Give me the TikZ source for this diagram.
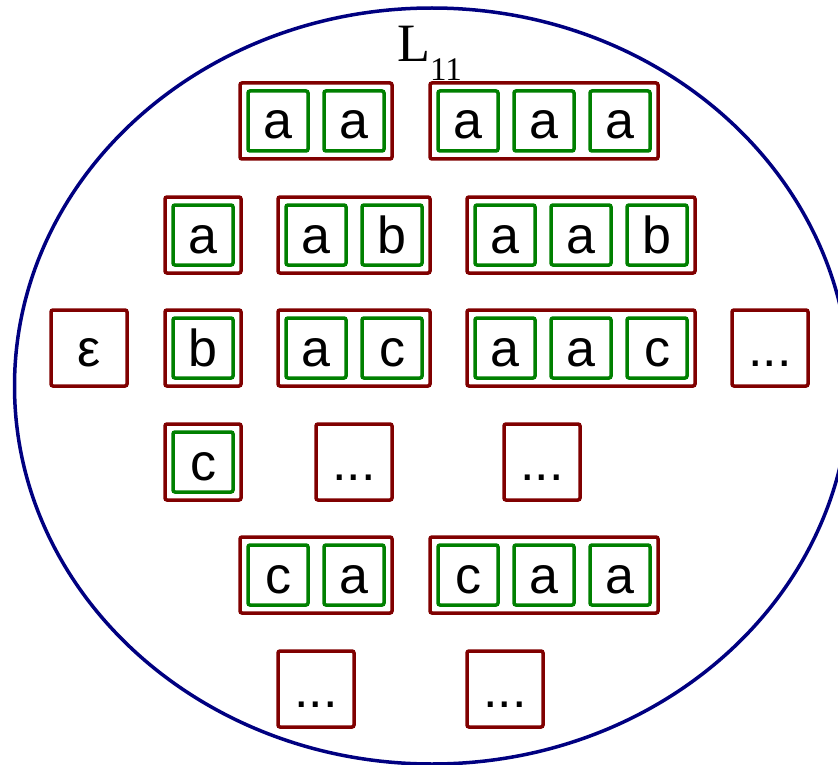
\documentclass[tikz,border=0pt]{standalone}
\usepackage{fontspec}
\newfontfamily\boxfont{Liberation Sans}
\newfontfamily\labfont{Liberation Serif}
\definecolor{dred}{HTML}{800000}
\definecolor{dgreen}{HTML}{008000}
\definecolor{dblue}{HTML}{000080}
\begin{document}
\begin{tikzpicture}[x=1pt,y=-1pt,
  boxtext/.style={font=\boxfont\fontsize{52}{60}\selectfont, text height=36pt, text depth=0pt},
  word/.style={draw=dred, line width=3.5pt, rounded corners=2pt, inner sep=0pt, minimum height=76pt, boxtext},
  letter/.style={draw=dgreen, line width=3.5pt, rounded corners=2pt, inner sep=0pt, minimum width=60pt, minimum height=60pt, boxtext}]
\useasboundingbox (0,0) rectangle (838,765);
\clip (0,0) rectangle (838,765);
\draw[dblue, line width=3.5pt] (432,386) ellipse [x radius=417.5pt, y radius=378pt];
\node[anchor=base west, inner sep=0pt, font=\labfont\fontsize{54}{60}\selectfont] (lab) at (397,62) {L\raisebox{-19pt}{\fontsize{33}{36}\selectfont 11}};
% row 1
\node[word, minimum width=152pt] (w1) at (316,121) {};
\node[letter] (w1a) at (278,121) {a};
\node[letter] (w1b) at (354,121) {a};
\node[word, minimum width=228pt] (w2) at (544,121) {};
\node[letter] (w2a) at (468,121) {a};
\node[letter] (w2b) at (544,121) {a};
\node[letter] (w2c) at (620,121) {a};
% row 2
\node[word, minimum width=76pt] (w3) at (203,235) {};
\node[letter] (w3a) at (203,235) {a};
\node[word, minimum width=152pt] (w4) at (354,235) {};
\node[letter] (w4a) at (316,235) {a};
\node[letter] (w4b) at (392,235) {b};
\node[word, minimum width=228pt] (w5) at (581,235) {};
\node[letter] (w5a) at (505,235) {a};
\node[letter] (w5b) at (581,235) {a};
\node[letter] (w5c) at (657,235) {b};
% row 3
\node[word, minimum width=76pt] (w6) at (89,348) {ε};
\node[word, minimum width=76pt] (w7) at (203,348) {};
\node[letter] (w7a) at (203,348) {b};
\node[word, minimum width=152pt] (w8) at (354,348) {};
\node[letter] (w8a) at (316,348) {a};
\node[letter] (w8b) at (392,348) {c};
\node[word, minimum width=228pt] (w9) at (581,348) {};
\node[letter] (w9a) at (505,348) {a};
\node[letter] (w9b) at (581,348) {a};
\node[letter] (w9c) at (657,348) {c};
\node[word, minimum width=76pt] (w10) at (770,348) {...};
% row 4
\node[word, minimum width=76pt] (w11) at (203,462) {};
\node[letter] (w11a) at (203,462) {c};
\node[word, minimum width=76pt] (w12) at (354,462) {...};
\node[word, minimum width=76pt] (w13) at (542,462) {...};
% row 5
\node[word, minimum width=152pt] (w14) at (316,575) {};
\node[letter] (w14a) at (278,575) {c};
\node[letter] (w14b) at (354,575) {a};
\node[word, minimum width=228pt] (w15) at (544,575) {};
\node[letter] (w15a) at (468,575) {c};
\node[letter] (w15b) at (544,575) {a};
\node[letter] (w15c) at (620,575) {a};
% row 6
\node[word, minimum width=76pt] (w16) at (316,689) {...};
\node[word, minimum width=76pt] (w17) at (505,689) {...};
\end{tikzpicture}
\end{document}
